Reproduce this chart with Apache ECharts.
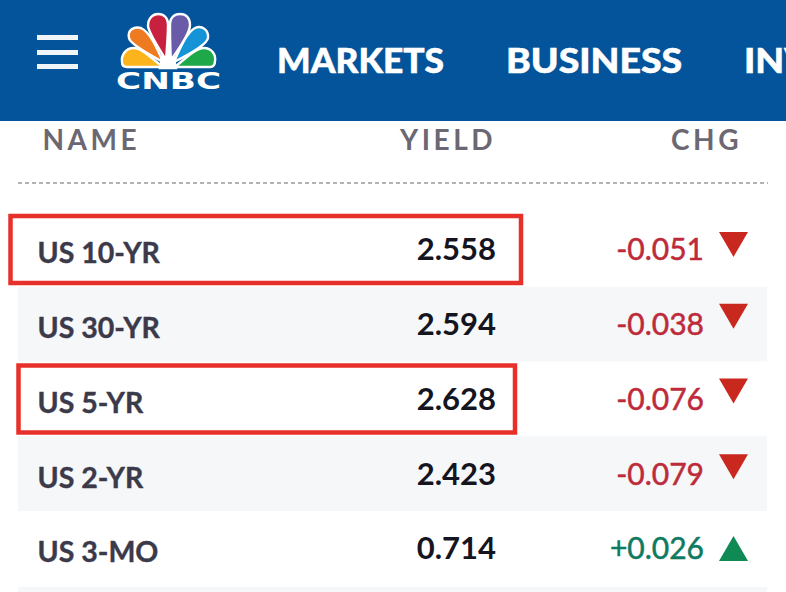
<!DOCTYPE html>
<html>
<head>
<meta charset="utf-8">
<title>US Treasury yields</title>
<script src="https://cdn.jsdelivr.net/npm/echarts@6/dist/echarts.min.js"></script>
<style>
html, body { margin: 0; padding: 0; background: #fff; }
#main { width: 786px; height: 592px; }
/* zrender has no letter spacing option, column heads are picked by their fill */
#main svg text[fill="#6b6873"] { letter-spacing: 3.5px; }
</style>
</head>
<body>
<div id="main"></div>
<script>
// table data
var names = ['US 10-YR', 'US 30-YR', 'US 5-YR', 'US 2-YR', 'US 3-MO'];
var yields = [2.558, 2.594, 2.628, 2.423, 0.714];
var changes = [-0.051, -0.038, -0.076, -0.079, 0.026];
var highlighted = ['US 10-YR', 'US 5-YR'];
var navItems = ['MARKETS', 'BUSINESS', 'INVESTING'];
var columnHeads = ['NAME', 'YIELD', 'CHG'];

var BODY_FONT = 'Lato, "Noto Sans", sans-serif';
var BLUE = '#03549a';
var RED_TEXT = '#bd2b3b';
var RED_MARK = '#c9281f';
var GREEN_TEXT = '#0e7a62';
var GREEN_MARK = '#0f8a55';
var BOX_RED = '#e8302a';

// small row offsets, the screenshot is not perfectly regular
var triangleNudge = [-5, -8, -8, -7, 0];
var boxEdges = { 'US 10-YR': [10.5, 521], 'US 5-YR': [18.5, 515] };

// peacock feathers of the logo
var feathers = [
    ['#fff', 'M168 30L176 68L160 68Z'],
    ['#fbb41b', 'M163 67C150 57 141 48 134 48C125 48 121 56 122 62C122 65 124 67 127 67Z'],
    ['#ee7a22', 'M163 62C148 54 130 44 129 38C127 30 134 26 141 28C150 32 157 48 163 62Z'],
    ['#c8213f', 'M166 60C160 50 149 34 148 26C148 18 153 14 158 14C164 14 168 18 168 24C168 32 167 48 166 60Z'],
    ['#6a5ba8', 'M171 60C170 48 170 30 170 24C170 18 174 14 180 14C186 14 190 18 190 25C190 34 178 50 171 60Z'],
    ['#1494d6', 'M174 62C180 48 187 32 195 28C202 25 209 30 208 38C207 44 190 54 174 62Z'],
    ['#1fa84a', 'M175 67C187 57 196 48 204 48C212 48 216 55 215 61C215 65 213 67 210 67Z']
];

function rowData() {
    return names.map(function (n, i) { return [0, i]; });
}

// one custom series per column of text
function textColumn(x, align, dy, font, getText, getFill, strokeWidth) {
    return {
        type: 'custom',
        data: rowData(),
        silent: true,
        renderItem: function (params, api) {
            var i = api.value(1);
            var p = api.coord([x, i]);
            return {
                type: 'text',
                style: {
                    text: getText(i),
                    x: p[0],
                    y: p[1] + dy,
                    align: align,
                    verticalAlign: 'middle',
                    font: font,
                    fill: getFill(i),
                    stroke: strokeWidth ? getFill(i) : null,
                    lineWidth: strokeWidth || 0
                }
            };
        }
    };
}

function formatChange(v) {
    return (v > 0 ? '+' : '') + v.toFixed(3);
}

var graphicEls = [
    { type: 'rect', z: 0, shape: { x: 0, y: 0, width: 786, height: 121 }, style: { fill: BLUE } },
    { type: 'rect', z: 0, shape: { x: 37, y: 35, width: 41, height: 5 }, style: { fill: '#f2f5f8' } },
    { type: 'rect', z: 0, shape: { x: 37, y: 50, width: 41, height: 5 }, style: { fill: '#f2f5f8' } },
    { type: 'rect', z: 0, shape: { x: 37, y: 64, width: 41, height: 5 }, style: { fill: '#f2f5f8' } },
    { type: 'line', z: 0, shape: { x1: 18, y1: 183, x2: 768, y2: 183 }, style: { stroke: '#9a9a9a', lineWidth: 1.4, lineDash: [4, 3] } },
    // top of the next row, cut off by the screenshot
    { type: 'rect', z: 0, shape: { x: 18, y: 587, width: 749, height: 5 }, style: { fill: '#f6f7f9' } },
    {
        type: 'text', z: 2, x: 116, y: 81, scaleX: 1.49,
        style: { text: 'CNBC', x: 0, y: 0, verticalAlign: 'middle', font: '900 23px "DejaVu Sans", sans-serif', fill: '#fff' }
    }
];
// Lato runs narrower than the site's font, so stretch each nav word a bit
var navX = [277, 506, 744];
var navStretch = [1.04, 1.1, 1.1];
navItems.forEach(function (t, i) {
    graphicEls.push({
        type: 'text', z: 2, x: navX[i], y: 60, scaleX: navStretch[i],
        style: { text: t, x: 0, y: 0, verticalAlign: 'middle', font: '900 34px ' + BODY_FONT, fill: '#fff', stroke: '#fff', lineWidth: 0.5 }
    });
});
var headX = [42.5, 496, 742];
var headAlign = ['left', 'right', 'right'];
columnHeads.forEach(function (t, i) {
    graphicEls.push({
        type: 'text', z: 2,
        style: { text: t, x: headX[i], y: 139, align: headAlign[i], verticalAlign: 'middle', font: '700 28px ' + BODY_FONT, fill: '#6b6873' }
    });
});

var chart = echarts.init(document.getElementById('main'), null, { renderer: 'svg' });
chart.setOption({
    animation: false,
    backgroundColor: '#fff',
    tooltip: { show: false },
    grid: { left: 0, right: 0, top: 212, height: 373.75 },
    xAxis: { type: 'value', min: 0, max: 786, show: false },
    yAxis: { type: 'category', inverse: true, data: names, show: false },
    graphic: graphicEls,
    series: [
        // logo, graphic component has no path type
        {
            type: 'custom',
            coordinateSystem: 'none',
            data: feathers.map(function (f, i) { return [i]; }),
            silent: true,
            renderItem: function (params, api) {
                var f = feathers[api.value(0)];
                return {
                    type: 'path',
                    shape: { pathData: f[1] },
                    style: { fill: f[0], stroke: '#fff', lineWidth: 2.4 }
                };
            }
        },
        // grey stripes on even table rows
        {
            type: 'custom',
            data: rowData(),
            silent: true,
            renderItem: function (params, api) {
                var i = api.value(1);
                if (i % 2 === 0) return null;
                var c = api.coord([0, i]);
                var h = api.size([0, 1])[1];
                return {
                    type: 'rect',
                    shape: { x: 18, y: c[1] - h / 2, width: 749, height: h },
                    style: { fill: '#f6f7f9' }
                };
            }
        },
        // red boxes drawn on the screenshot
        {
            type: 'custom',
            data: rowData(),
            silent: true,
            renderItem: function (params, api) {
                var i = api.value(1);
                if (highlighted.indexOf(names[i]) < 0) return null;
                var c = api.coord([0, i]);
                var e = boxEdges[names[i]];
                return {
                    type: 'rect',
                    shape: { x: e[0], y: c[1] - 33.5, width: e[1] - e[0], height: 67 },
                    style: { fill: '#fff', stroke: BOX_RED, lineWidth: 4.5 }
                };
            }
        },
        textColumn(37.5, 'left', 3, '700 28.5px ' + BODY_FONT,
            function (i) { return names[i]; },
            function () { return '#3b3a4a'; }, 0.4),
        textColumn(496, 'right', -1, '700 31px ' + BODY_FONT,
            function (i) { return yields[i].toFixed(3); },
            function () { return '#15151f'; }),
        textColumn(704, 'right', -1, '400 30px ' + BODY_FONT,
            function (i) { return formatChange(changes[i]); },
            function (i) { return changes[i] < 0 ? RED_TEXT : GREEN_TEXT; }, 0.5),
        // up and down triangles follow the sign of the change
        {
            type: 'custom',
            data: rowData(),
            silent: true,
            renderItem: function (params, api) {
                var i = api.value(1);
                var c = api.coord([733.5, i]);
                var y = c[1] + triangleNudge[i];
                var up = changes[i] > 0;
                var tip = up ? y - 12.5 : y + 12.5;
                var base = up ? y + 12.5 : y - 12.5;
                return {
                    type: 'polygon',
                    shape: { points: [[c[0] - 14.5, base], [c[0] + 14.5, base], [c[0], tip]] },
                    style: { fill: up ? GREEN_MARK : RED_MARK }
                };
            }
        }
    ]
});
</script>
</body>
</html>
